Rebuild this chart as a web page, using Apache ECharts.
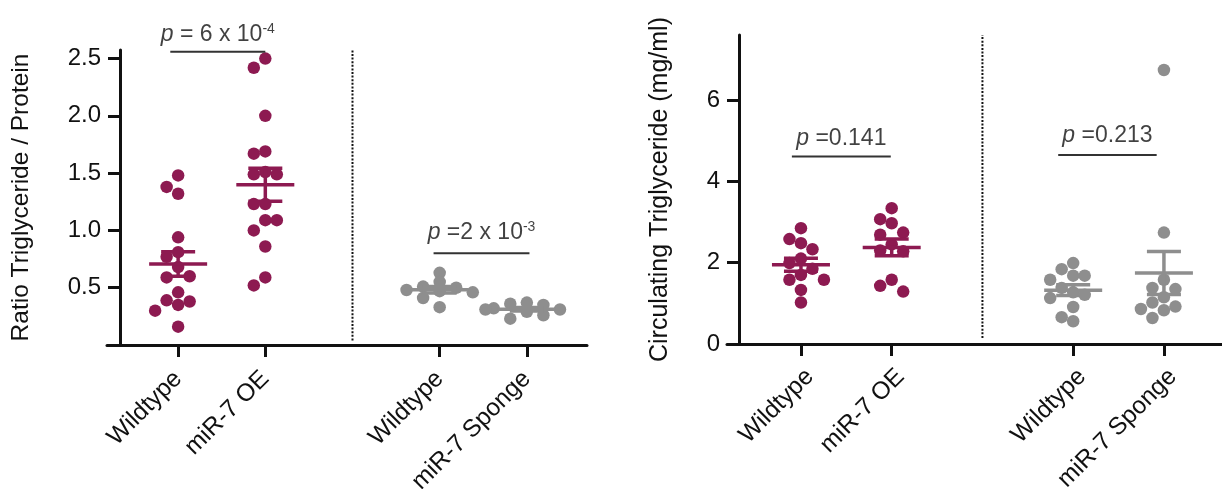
<!DOCTYPE html>
<html>
<head>
<meta charset="utf-8">
<script src="https://cdn.jsdelivr.net/npm/echarts@6/dist/echarts.min.js"></script>
<style>
  html, body { margin: 0; padding: 0; background: #ffffff; }
  #chart { width: 1222px; height: 489px; }
</style>
</head>
<body>
<div id="chart"></div>
<script>
// Group names along each x axis and their positions (3 is the gap holding the separator)
const groupLabels = ['Wildtype', 'miR-7 OE', 'Wildtype', 'miR-7 Sponge'];
const groupPositions = [1, 2, 4, 5];
const separatorPosition = 3;

// Ratio triglyceride / protein, one value per animal
const ratioWildtypeOE = [1.48, 1.38, 1.32, 0.94, 0.81, 0.77, 0.68, 0.60, 0.59, 0.46, 0.39, 0.38, 0.35, 0.30, 0.16];
const ratioMiR7OE = [2.50, 2.42, 2.00, 1.69, 1.67, 1.51, 1.49, 1.49, 1.23, 1.23, 1.09, 1.09, 1.00, 0.86, 0.59, 0.52];
const ratioWildtypeSponge = [0.63, 0.55, 0.51, 0.50, 0.48, 0.47, 0.46, 0.41, 0.33];
const ratioMiR7Sponge = [0.37, 0.36, 0.35, 0.32, 0.31, 0.31, 0.29, 0.26, 0.23];

// Circulating triglyceride (mg/ml)
const circWildtypeOE = [2.85, 2.58, 2.48, 2.33, 2.10, 1.99, 1.85, 1.70, 1.58, 1.58, 1.33, 1.02];
const circMiR7OE = [3.34, 3.07, 2.97, 2.74, 2.69, 2.45, 2.30, 2.28, 1.58, 1.43, 1.29];
const circWildtypeSponge = [1.99, 1.84, 1.68, 1.68, 1.58, 1.38, 1.27, 1.21, 1.13, 0.91, 0.66, 0.56];
const circMiR7Sponge = [6.74, 2.74, 1.58, 1.38, 1.35, 1.15, 1.02, 0.92, 0.86, 0.83, 0.64];

// Y tick labels
const ratioTicks = [0.5, 1.0, 1.5, 2.0, 2.5];
const circTicks = [0, 2, 4, 6];

// p-value annotations (rich-text markup)
const ratioPLabels = ['{i|p} = 6 x 10{sup|-4}', '{i|p} =2 x 10{sup|-3}'];
const circPLabels = ['{i|p} =0.141', '{i|p} =0.213'];

const MAGENTA = '#8d1a51';
const GREY = '#8e8e8e';
const INK = '#111111';
const FONT = '"Liberation Sans", Arial, Helvetica, sans-serif';

const panels = [
  {
    grid: { left: 107, top: 50, width: 480, height: 295 },
    xMin: 0.184, xMax: 5.69, yMax: 2.575, yOffset: -13,
    yName: 'Ratio Triglyceride / Protein', nameGap: 86, nameSize: 24.5,
    labelMargin: 30, labelAlign: 'middle',
    ticks: ratioTicks, tickFmt: v => v.toFixed(1),
    groups: [ratioWildtypeOE, ratioMiR7OE, ratioWildtypeSponge, ratioMiR7Sponge],
    packing: [1, 1, 0.72, 0.72],   // tight grey clusters are allowed to overlap
    brackets: [
      { from: 0.91, to: 2.0, at: 2.56, text: ratioPLabels[0], gap: 5 },
      { from: 3.93, to: 5.03, at: 0.80, text: ratioPLabels[1], gap: 8 }
    ],
    sepRange: [0.04, 2.59]
  },
  {
    grid: { left: 727, top: 35, width: 495, height: 309 },
    xMin: 0.185, xMax: 5.64, yMax: 7.6, yOffset: -12,
    yName: 'Circulating Triglyceride (mg/ml)', nameGap: 66, nameSize: 25,
    labelMargin: 20, labelAlign: 'top',
    ticks: circTicks, tickFmt: v => String(v),
    groups: [circWildtypeOE, circMiR7OE, circWildtypeSponge, circMiR7Sponge],
    packing: [1, 1, 1, 1],
    brackets: [
      { from: 0.90, to: 1.99, at: 4.61, text: circPLabels[0], gap: 6 },
      { from: 3.835, to: 4.92, at: 4.65, text: circPLabels[1], gap: 8 }
    ],
    sepRange: [0.15, 7.6]
  }
];

const groupColors = [MAGENTA, MAGENTA, GREY, GREY];
const DOT = 12.5;

// Beeswarm: place each dot at the smallest horizontal offset whose
// neighbourhood (one dot wide, one dot tall) is still free
function swarmOffsets(values, pxPerUnit, size, step) {
  const placed = [];
  return values.map(v => {
    const y = v * pxPerUnit;
    for (let k = 0; k < 30; k++) {
      let cands;
      if (k === 0) {
        cands = [0];
      } else {
        const near = placed.filter(p => Math.abs(p.y - y) < size * 2);
        const l = near.filter(p => p.x < 0).length;
        const r = near.filter(p => p.x > 0).length;
        cands = l <= r ? [-k * step, k * step] : [k * step, -k * step];
      }
      for (const dx of cands) {
        const free = placed.every(p => Math.abs(p.x - dx) >= size * 0.92 || Math.abs(p.y - y) >= size);
        if (free) {
          placed.push({ x: dx, y });
          return dx;
        }
      }
    }
    return 0;
  });
}

function meanSem(values) {
  const n = values.length;
  const m = values.reduce((a, b) => a + b, 0) / n;
  const sd = Math.sqrt(values.reduce((a, b) => a + (b - m) * (b - m), 0) / (n - 1));
  return [m, sd / Math.sqrt(n)];
}

const grids = [], xAxes = [], yAxes = [], series = [];

panels.forEach((P, i) => {
  // fixed plot rectangle: labels may run past the canvas edge
  grids.push(Object.assign({ containLabel: false, outerBoundsMode: 'none' }, P.grid));
  const pxX = P.grid.width / (P.xMax - P.xMin);
  const pxY = P.grid.height / P.yMax;

  xAxes.push({
    type: 'value', gridIndex: i, min: P.xMin, max: P.xMax,
    splitLine: { show: false },
    axisLine: { show: true, onZero: false, lineStyle: { color: INK, width: 3 } },
    axisTick: { show: true, customValues: groupPositions, length: 12, lineStyle: { color: INK, width: 3 } },
    axisLabel: {
      show: true, customValues: groupPositions, rotate: 45, margin: P.labelMargin,
      verticalAlign: P.labelAlign, hideOverlap: false,
      color: INK, fontFamily: FONT, fontSize: 24.5,
      formatter: v => groupLabels[groupPositions.indexOf(Math.round(v))] || ''
    }
  });

  yAxes.push({
    type: 'value', gridIndex: i, min: 0, max: P.yMax, offset: P.yOffset,
    splitLine: { show: false },
    axisLine: { show: true, lineStyle: { color: INK, width: 3 } },
    axisTick: { show: true, customValues: P.ticks, length: 12, lineStyle: { color: INK, width: 3 } },
    axisLabel: {
      show: true, customValues: P.ticks, margin: 19,
      color: INK, fontFamily: FONT, fontSize: 24, formatter: P.tickFmt
    },
    name: P.yName, nameLocation: 'middle', nameGap: P.nameGap,
    nameTextStyle: { color: INK, fontFamily: FONT, fontSize: P.nameSize }
  });

  // dots
  P.groups.forEach((vals, g) => {
    const k = P.packing[g];
    const offs = swarmOffsets(vals, pxY, DOT * k, 11.5 * k);
    series.push({
      type: 'scatter', xAxisIndex: i, yAxisIndex: i, z: 3,
      symbol: 'circle', symbolSize: DOT,
      itemStyle: { color: groupColors[g], opacity: 1 },
      silent: true,
      data: vals.map((v, j) => [groupPositions[g] + offs[j] / pxX, v])
    });
  });

  // mean ± SEM
  P.groups.forEach((vals, g) => {
    const [m, s] = meanSem(vals);
    series.push({
      type: 'custom', xAxisIndex: i, yAxisIndex: i, z: 5, silent: true,
      data: [[groupPositions[g], m, m - s, m + s]],
      renderItem(params, api) {
        const x = api.value(0);
        const c = api.coord([x, api.value(1)]);
        const lo = api.coord([x, api.value(2)]);
        const hi = api.coord([x, api.value(3)]);
        const style = { stroke: groupColors[g], lineWidth: 3.5 };
        return {
          type: 'group', children: [
            { type: 'line', shape: { x1: hi[0], y1: hi[1], x2: lo[0], y2: lo[1] }, style },
            { type: 'line', shape: { x1: c[0] - 29, y1: c[1], x2: c[0] + 29, y2: c[1] }, style },
            { type: 'line', shape: { x1: hi[0] - 17, y1: hi[1], x2: hi[0] + 17, y2: hi[1] }, style },
            { type: 'line', shape: { x1: lo[0] - 17, y1: lo[1], x2: lo[0] + 17, y2: lo[1] }, style }
          ]
        };
      }
    });
  });

  // dotted separator between the two experiments
  series.push({
    type: 'line', xAxisIndex: i, yAxisIndex: i, z: 2, silent: true,
    symbol: 'none',
    lineStyle: { color: INK, width: 2, type: [2, 1.6] },
    data: [[separatorPosition, P.sepRange[0]], [separatorPosition, P.sepRange[1]]]
  });

  // significance brackets with p-values
  P.brackets.forEach(b => {
    series.push({
      type: 'line', xAxisIndex: i, yAxisIndex: i, z: 4, silent: true,
      symbol: 'none',
      lineStyle: { color: '#333333', width: 2 },
      data: [[b.from, b.at], [b.to, b.at]]
    });
    series.push({
      type: 'scatter', xAxisIndex: i, yAxisIndex: i, z: 4, silent: true,
      symbolSize: 0,
      label: {
        show: true, position: 'top', distance: b.gap,
        formatter: b.text,
        color: INK, fontFamily: FONT, fontSize: 23,
        rich: {
          i: { fontStyle: 'italic', fontFamily: FONT, fontSize: 23, color: INK },
          sup: { fontSize: 14, fontFamily: FONT, color: INK, verticalAlign: 'top', padding: [0, 0, 11, 0] }
        }
      },
      data: [[(b.from + b.to) / 2, b.at]]
    });
  });
});

const chart = echarts.init(document.getElementById('chart'), null, { renderer: 'canvas' });
chart.setOption({
  animation: false,
  backgroundColor: '#ffffff',
  grid: grids,
  xAxis: xAxes,
  yAxis: yAxes,
  series: series
});
</script>
</body>
</html>
